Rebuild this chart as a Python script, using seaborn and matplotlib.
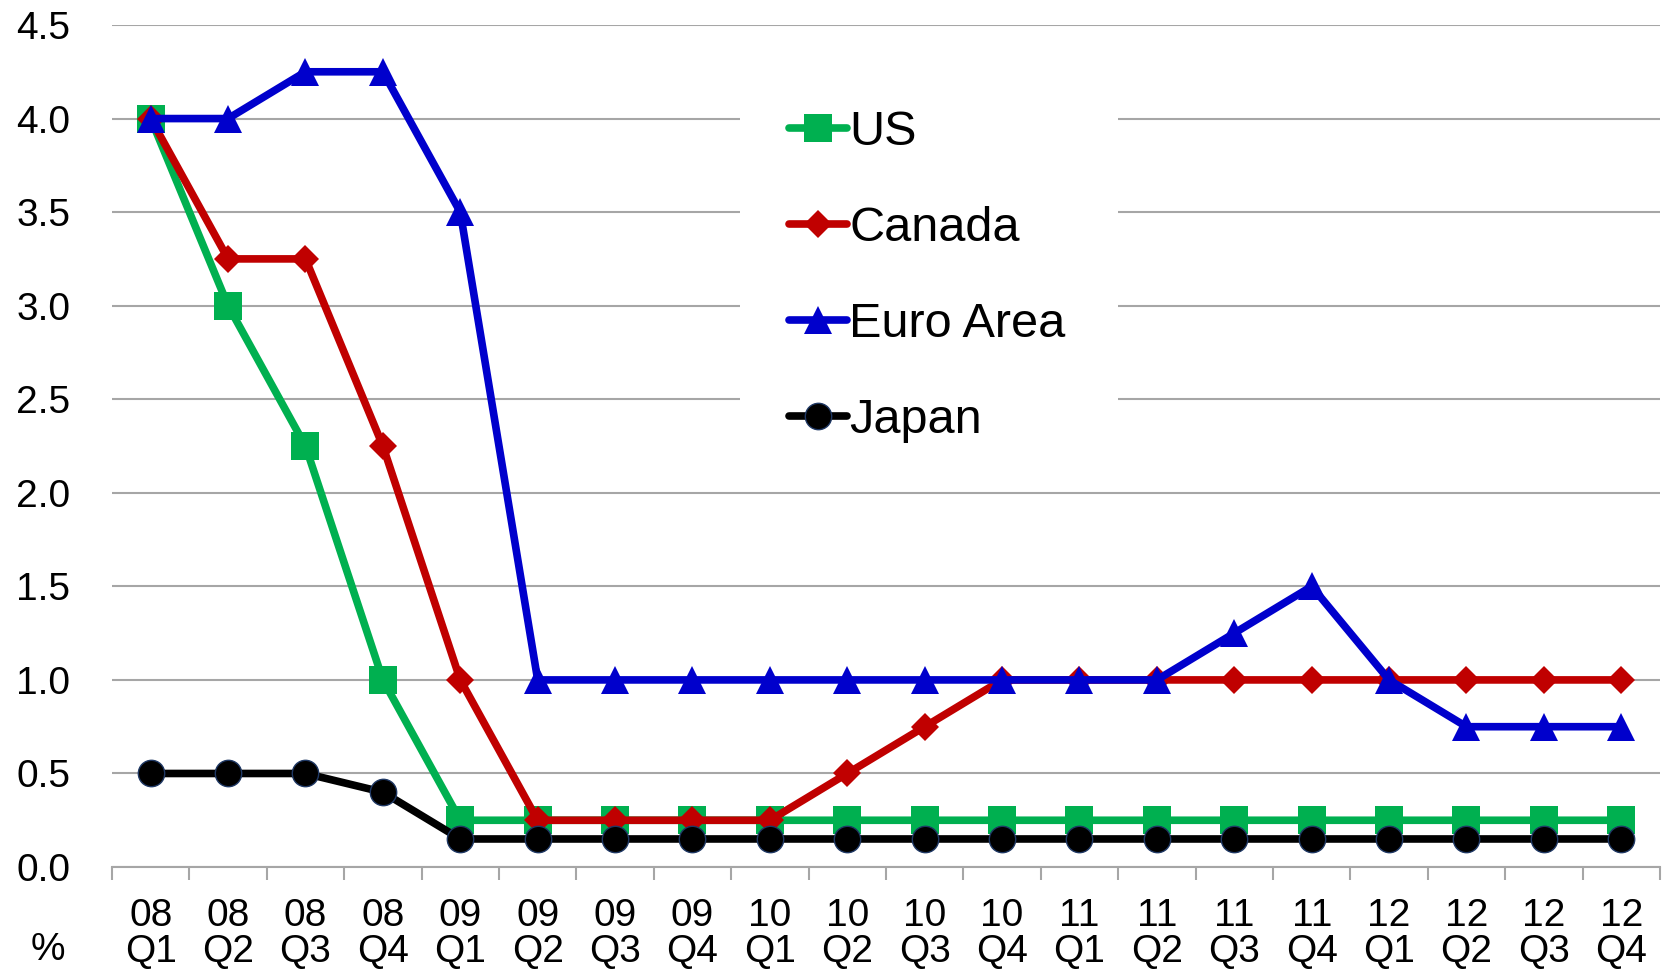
import numpy as np
import pandas as pd
import matplotlib
matplotlib.use("Agg")
import matplotlib.pyplot as plt
import seaborn as sb
from matplotlib.ticker import MultipleLocator, FixedLocator
from matplotlib.patches import Rectangle

# quarterly policy rates, 2008 Q1 - 2012 Q4
quarters = ["08\nQ1", "08\nQ2", "08\nQ3", "08\nQ4",
            "09\nQ1", "09\nQ2", "09\nQ3", "09\nQ4",
            "10\nQ1", "10\nQ2", "10\nQ3", "10\nQ4",
            "11\nQ1", "11\nQ2", "11\nQ3", "11\nQ4",
            "12\nQ1", "12\nQ2", "12\nQ3", "12\nQ4"]
us = [4.0, 3.0, 2.25, 1.0, 0.25, 0.25, 0.25, 0.25, 0.25, 0.25,
      0.25, 0.25, 0.25, 0.25, 0.25, 0.25, 0.25, 0.25, 0.25, 0.25]
canada = [4.0, 3.25, 3.25, 2.25, 1.0, 0.25, 0.25, 0.25, 0.25, 0.5,
          0.75, 1.0, 1.0, 1.0, 1.0, 1.0, 1.0, 1.0, 1.0, 1.0]
euro = [4.0, 4.0, 4.25, 4.25, 3.5, 1.0, 1.0, 1.0, 1.0, 1.0,
        1.0, 1.0, 1.0, 1.0, 1.25, 1.5, 1.0, 0.75, 0.75, 0.75]
japan = [0.5, 0.5, 0.5, 0.4, 0.15, 0.15, 0.15, 0.15, 0.15, 0.15,
         0.15, 0.15, 0.15, 0.15, 0.15, 0.15, 0.15, 0.15, 0.15, 0.15]

sb.set_style("white")
plt.rcParams['font.family'] = ['Liberation Sans', 'DejaVu Sans']
plt.rcParams['text.color'] = 'black'
plt.rcParams['xtick.color'] = 'black'
plt.rcParams['ytick.color'] = 'black'

xpos = np.arange(len(quarters))
gray = "#A6A6A6"

fig = plt.figure(figsize=(16.69, 9.73), dpi=100)
ax = fig.add_axes([0.0671, 0.1089, 0.9275, 0.8654])

series = [
    ("US", us, "#00B050", "s", 20, "none", 0),
    ("Canada", canada, "#C00000", "D", 14, "none", 0),
    ("Euro Area", euro, "#0000CC", "^", 20, "none", 0),
    ("Japan", japan, "#000000", "o", 19, "#1F3864", 1),
]
for name, vals, col, mk, ms, mec, mew in series:
    sb.lineplot(x=xpos, y=vals, ax=ax, color=col, marker=mk, markersize=ms,
                markeredgecolor=mec, markeredgewidth=mew, linewidth=5.5,
                label=name)

ax.set_xlim(-0.5, len(quarters) - 0.5)
ax.set_ylim(0, 4.5)
ax.yaxis.set_major_locator(MultipleLocator(0.5))
ax.yaxis.set_major_formatter(matplotlib.ticker.FormatStrFormatter("%.1f"))
ax.grid(axis="y", color=gray, linewidth=1.5)
ax.set_axisbelow(True)

ax.set_xticks(xpos)
ax.set_xticklabels(quarters, linespacing=1.0)
ax.xaxis.set_minor_locator(FixedLocator(np.arange(-0.5, len(quarters), 1.0)))
ax.tick_params(axis="x", which="major", length=0, pad=22, labelsize=28)
ax.tick_params(axis="x", which="minor", length=9, width=1.5, color=gray,
               direction="out", bottom=True)
ax.tick_params(axis="y", length=0, pad=30, labelsize=28)

for s in ["left", "right", "top"]:
    ax.spines[s].set_visible(False)
ax.spines["bottom"].set_color(gray)
ax.spines["bottom"].set_linewidth(1.5)
ax.set_xlabel("")
ax.set_ylabel("")

fig.text(48 / 1669, 1 - 950 / 973, "%", fontsize=28, ha="center", va="center")

# white block behind the legend hides the gridlines there
ax.add_patch(Rectangle((740 / 1669, 1 - 460 / 973), 378 / 1669, 360 / 973,
                       transform=fig.transFigure, facecolor="white",
                       edgecolor="none", zorder=1))

leg = ax.legend(loc="upper left", bbox_to_anchor=(740 / 1669, 0.937),
                bbox_transform=fig.transFigure, fontsize=35, frameon=False,
                borderpad=1.0, borderaxespad=0,
                handlelength=1.2, handletextpad=0.05, labelspacing=1.05)

fig.savefig("out.png", dpi=100)
